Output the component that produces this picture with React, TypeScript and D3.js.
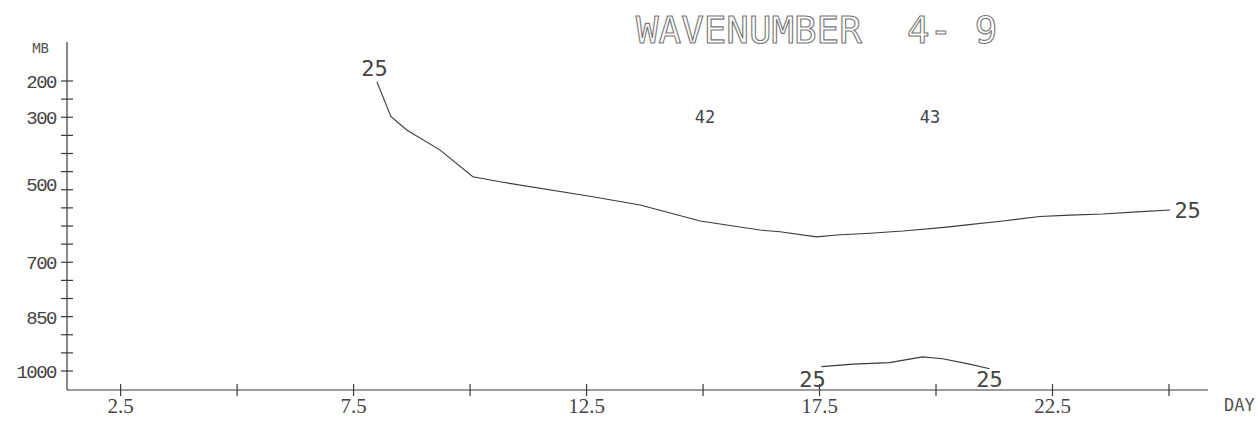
import React from "react";
import * as d3 from "d3";

const dayTicks = [2.5, 5, 7.5, 10, 12.5, 15, 17.5, 20, 22.5, 25];
const dayLabels = [2.5, 7.5, 12.5, 17.5, 22.5];
const mbTicks = d3.range(200, 1001, 50);
const mbLabels = ["200", "300", "500", "700", "850", "1000"];
const mbLabelValues = [200, 300, 485, 700, 850, 1000];

const upperDays = [8.0, 8.3, 8.64, 9.35, 10.06, 10.64, 12.57, 13.65, 14.94, 16.22, 16.65, 17.44, 17.87, 18.58, 19.29, 20.23, 20.66, 21.44, 22.23, 22.87, 23.58, 24.31, 25.02];
const upperMb = [202, 298, 335, 390, 464, 478, 518, 542, 586, 611, 616, 630, 625, 620, 614, 603, 597, 586, 574, 570, 567, 561, 556];

const lowerDays = [17.54, 18.22, 19.0, 19.71, 20.14, 20.72, 21.15];
const lowerMb = [988, 981, 977, 961, 966, 981, 994];

const pointLabels = [
  { text: "25", day: 7.95, mb: 187, size: 22 },
  { text: "25", day: 25.4, mb: 577, size: 22 },
  { text: "25", day: 17.35, mb: 1044, size: 22 },
  { text: "25", day: 21.15, mb: 1044, size: 22 },
  { text: "42", day: 15.04, mb: 315, size: 17 },
  { text: "43", day: 19.87, mb: 315, size: 17 },
];

export default function App() {
  const x = d3.scaleLinear().domain([2.5, 25]).range([120.6, 1169]);
  const y = d3.scaleLinear().domain([200, 1000]).range([81, 371]);
  const axisX0 = 67;
  const axisY0 = 390;
  const line = d3
    .line<[number, number]>()
    .x((d) => x(d[0]))
    .y((d) => y(d[1]));
  const upper = upperDays.map((d, i) => [d, upperMb[i]] as [number, number]);
  const lower = lowerDays.map((d, i) => [d, lowerMb[i]] as [number, number]);
  const ink = "#3a3a3a";
  return (
    <svg
      width={1258}
      height={423}
      style={{ position: "absolute", left: 0, top: 0, background: "#fff" }}
    >
      <rect x={0} y={0} width={1258} height={423} fill="#fff" />
      {/* title */}
      <text
        x={636}
        y={43}
        fontFamily="DejaVu Sans Mono"
        fontSize={37.5}
        fill="#fff"
        stroke="#777"
        strokeWidth={1.1}
        style={{ whiteSpace: "pre" }}
      >
        {"WAVENUMBER  4- 9"}
      </text>
      {/* axes */}
      <line x1={axisX0} y1={42} x2={axisX0} y2={axisY0} stroke={ink} strokeWidth={1.2} />
      <line x1={axisX0} y1={axisY0} x2={1208} y2={axisY0} stroke={ink} strokeWidth={1.2} />
      {mbTicks.map((m) => (
        <line key={"yt" + m} x1={axisX0 - 6} x2={axisX0 + 6} y1={y(m)} y2={y(m)} stroke={ink} strokeWidth={1.2} />
      ))}
      {dayTicks.map((d) => (
        <line key={"xt" + d} x1={x(d)} x2={x(d)} y1={axisY0 - 6} y2={axisY0 + 6} stroke={ink} strokeWidth={1.2} />
      ))}
      {/* y labels */}
      <text x={49} y={53} fontFamily="DejaVu Sans Mono" fontSize={14} textAnchor="end" fill="#555">
        MB
      </text>
      {mbLabels.map((t, i) => (
        <text
          key={"yl" + t}
          x={56}
          y={y(mbLabelValues[i]) + 7}
          fontFamily="Liberation Mono"
          fontSize={19}
          textAnchor="end"
          fill="#444"
          letterSpacing={-1.5}
        >
          {t}
        </text>
      ))}
      {/* x labels */}
      {dayLabels.map((d) => (
        <text
          key={"xl" + d}
          x={x(d)}
          y={413}
          fontFamily="Liberation Serif"
          fontSize={21}
          textAnchor="middle"
          fill="#444"
        >
          {String(d)}
        </text>
      ))}
      <text x={1224} y={411} fontFamily="DejaVu Sans Mono" fontSize={17} fill="#555">
        DAY
      </text>
      {/* curves */}
      <path d={line(upper) || ""} fill="none" stroke={ink} strokeWidth={1.1} />
      <path d={line(lower) || ""} fill="none" stroke={ink} strokeWidth={1.1} />
      {pointLabels.map((p, i) => (
        <text
          key={"pl" + i}
          x={x(p.day)}
          y={y(p.mb)}
          fontFamily="DejaVu Sans Mono"
          fontSize={p.size}
          textAnchor="middle"
          fill="#444"
        >
          {p.text}
        </text>
      ))}
    </svg>
  );
}
